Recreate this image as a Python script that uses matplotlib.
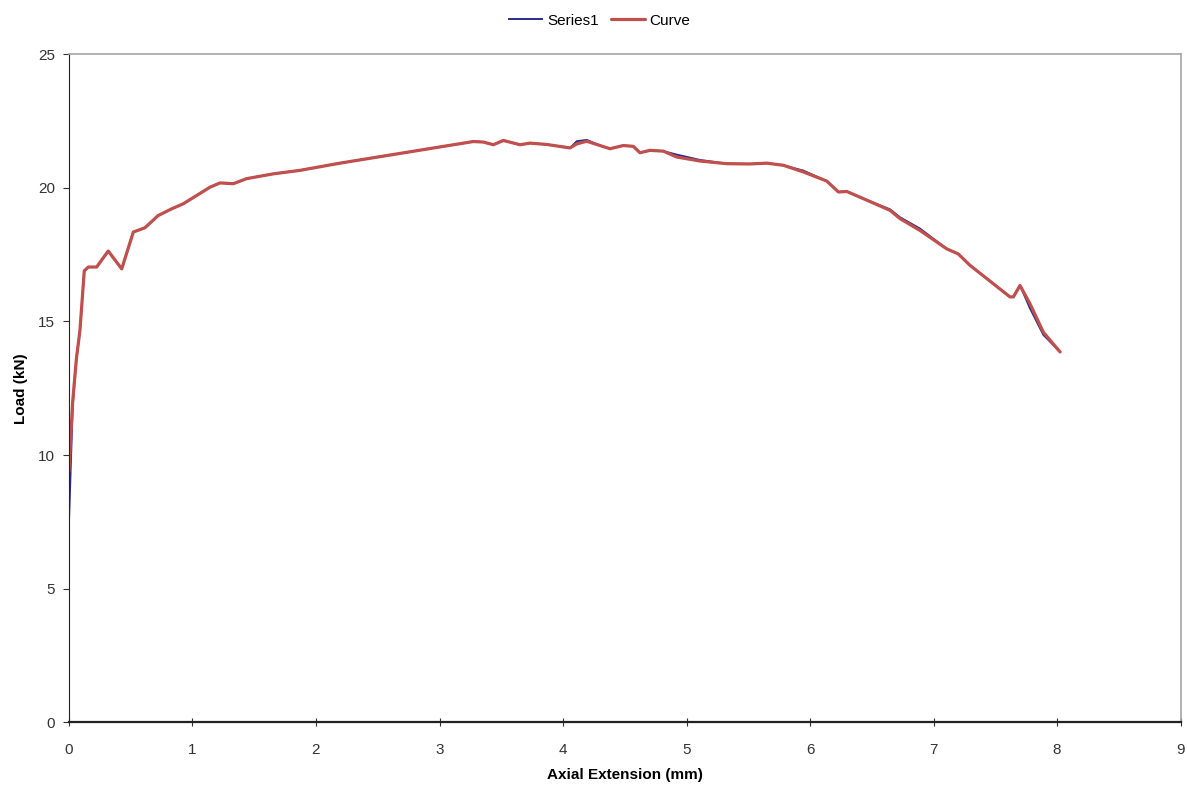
import matplotlib
matplotlib.use("Agg")
import matplotlib.pyplot as plt

# Curve (smoothed) - axial extension (mm) vs load (kN)
curve_x = [0.0, 0.03, 0.06, 0.089, 0.124, 0.157, 0.224, 0.318, 0.427, 0.521, 0.615,
           0.723, 0.832, 0.926, 1.034, 1.142, 1.223, 1.33, 1.439, 1.655, 1.87, 2.194,
           3.274, 3.355, 3.436, 3.517, 3.652, 3.733, 3.868, 4.057, 4.111, 4.192, 4.30,
           4.38, 4.488, 4.569, 4.623, 4.704, 4.812, 4.92, 5.109, 5.325, 5.514, 5.649,
           5.784, 5.946, 6.135, 6.23, 6.297, 6.432, 6.648, 6.729, 6.89, 7.107, 7.2,
           7.296, 7.619, 7.646, 7.70, 7.78, 7.889, 8.024]
curve_y = [9.4, 12.0, 13.6, 14.67, 16.9, 17.04, 17.04, 17.64, 16.97, 18.35, 18.51,
           18.97, 19.22, 19.41, 19.72, 20.03, 20.19, 20.16, 20.35, 20.53, 20.66, 20.93,
           21.74, 21.72, 21.62, 21.78, 21.62, 21.68, 21.63, 21.50, 21.65, 21.75, 21.59,
           21.47, 21.59, 21.56, 21.32, 21.41, 21.38, 21.16, 21.01, 20.91, 20.90, 20.93,
           20.85, 20.6, 20.26, 19.85, 19.87, 19.6, 19.16, 18.85, 18.41, 17.72, 17.53,
           17.1, 15.92, 15.92, 16.35, 15.67, 14.6, 13.86]

# Series1 (raw data)
series1_x = [0.0, 0.03, 0.06, 0.089, 0.124, 0.157, 0.224, 0.318, 0.427, 0.521, 0.615,
             0.723, 0.832, 0.926, 1.034, 1.142, 1.223, 1.33, 1.439, 1.655, 1.87, 2.194,
             3.274, 3.355, 3.436, 3.517, 3.652, 3.733, 3.868, 4.057, 4.111, 4.192, 4.30,
             4.38, 4.488, 4.569, 4.623, 4.704, 4.812, 4.92, 5.109, 5.325, 5.514, 5.649,
             5.784, 5.946, 6.135, 6.23, 6.297, 6.432, 6.648, 6.729, 6.89, 7.107, 7.2,
             7.296, 7.619, 7.646, 7.70, 7.78, 7.889, 8.024]
series1_y = [7.5, 11.8, 13.6, 14.67, 16.9, 17.04, 17.04, 17.64, 16.97, 18.35, 18.51,
             18.97, 19.22, 19.41, 19.72, 20.03, 20.19, 20.16, 20.35, 20.53, 20.66, 20.93,
             21.74, 21.72, 21.62, 21.78, 21.62, 21.68, 21.63, 21.50, 21.75, 21.80, 21.59,
             21.47, 21.59, 21.56, 21.32, 21.41, 21.38, 21.25, 21.05, 20.91, 20.90, 20.93,
             20.85, 20.65, 20.26, 19.85, 19.87, 19.6, 19.2, 18.9, 18.48, 17.72, 17.53,
             17.1, 15.92, 15.92, 16.35, 15.5, 14.5, 13.86]

x_ticks = list(range(0, 10))
y_ticks = [0, 5, 10, 15, 20, 25]

plt.rcParams['font.family'] = ['Liberation Sans', 'DejaVu Sans']

fig = plt.figure(figsize=(11.87, 7.93), dpi=100)
ax = fig.add_axes([0.0581, 0.0895, 0.9365, 0.8418])

ax.plot(series1_x, series1_y, color="#2b2b8a", lw=1.4, label="Series1",
        solid_joinstyle="round")
ax.plot(curve_x, curve_y, color="#c0504d", lw=2.3, label="Curve",
        solid_joinstyle="round", solid_capstyle="round")

ax.set_xlim(0, 9)
ax.set_ylim(0, 25)
ax.set_xticks(x_ticks)
ax.set_yticks(y_ticks)
ax.tick_params(axis="x", direction="inout", length=6, labelsize=11, pad=12, colors="#333333")
ax.tick_params(axis="y", direction="out", length=4, labelsize=11, pad=6, colors="#333333")

for side in ("top", "right"):
    ax.spines[side].set_color("#a6a6a6")
    ax.spines[side].set_linewidth(1.2)
ax.spines["left"].set_color("#222222")
ax.spines["bottom"].set_color("#222222")
ax.spines["bottom"].set_linewidth(1.6)

ax.set_xlabel("Axial Extension (mm)", fontsize=11, fontweight="bold", labelpad=8)
ax.set_ylabel("Load (kN)", fontsize=11, fontweight="bold", labelpad=7)

fig.legend(loc="upper center", bbox_to_anchor=(0.505, 1.0), ncol=2, frameon=False,
           fontsize=11, handlelength=2.2, columnspacing=0.8, handletextpad=0.3)

fig.savefig("out.png", dpi=100)
